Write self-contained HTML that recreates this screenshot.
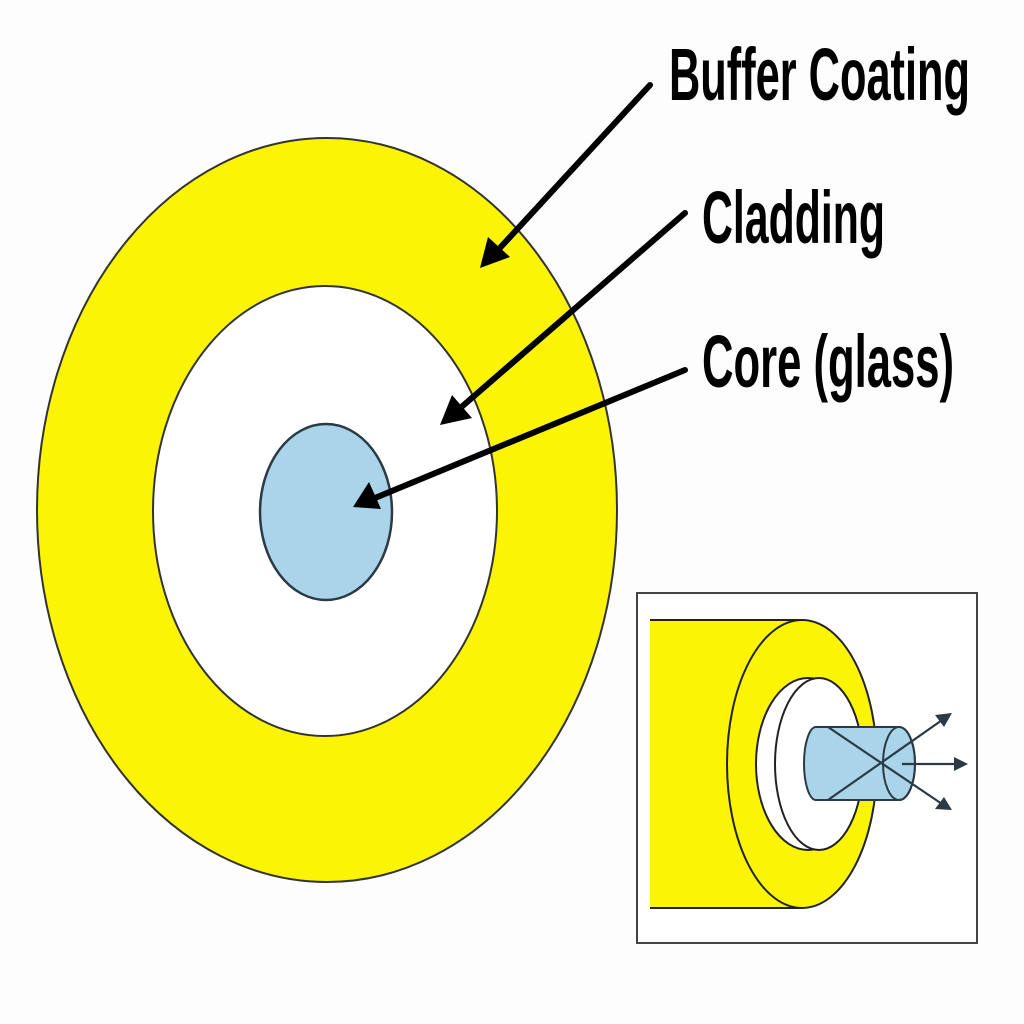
<!DOCTYPE html>
<html><head><meta charset="utf-8"><style>html,body{margin:0;padding:0;background:#fff}svg{display:block}</style></head>
<body>
<svg width="1024" height="1024" viewBox="0 0 1024 1024" xmlns="http://www.w3.org/2000/svg">
<defs>
<marker id="ah" markerWidth="10" markerHeight="10" refX="8" refY="5" orient="auto" markerUnits="userSpaceOnUse" viewBox="0 0 10 10">
</marker>
</defs>
<rect width="1024" height="1024" fill="#fdfdfd"/>
<!-- main rings -->
<ellipse cx="327" cy="510" rx="290" ry="372" fill="#fbf505" stroke="#333" stroke-width="2"/>
<ellipse cx="325" cy="511" rx="172" ry="225" fill="#fff" stroke="#333" stroke-width="2"/>
<ellipse cx="326" cy="512" rx="66" ry="88" fill="#a9d4ea" stroke="#2b3a44" stroke-width="2.5"/>
<!-- arrows -->
<g stroke="#000" stroke-width="6" stroke-linecap="round">
<line x1="650" y1="85" x2="498" y2="250"/>
<line x1="685" y1="213" x2="458" y2="410"/>
<line x1="685" y1="370" x2="375" y2="498"/>
</g>
<g fill="#000">
<polygon points="480,268 488,237 510,257"/>
<polygon points="440,425 452,395 472,418"/>
<polygon points="353,507 369,482 381,509"/>
</g>
<!-- labels -->
<g font-family="Liberation Sans, Arial, sans-serif" font-weight="bold" font-size="74" fill="#000">
<text x="669" y="100" textLength="301" lengthAdjust="spacingAndGlyphs">Buffer Coating</text>
<text x="702" y="243" textLength="183" lengthAdjust="spacingAndGlyphs">Cladding</text>
<text x="702" y="387" textLength="252" lengthAdjust="spacingAndGlyphs">Core (glass)</text>
</g>
<!-- inset -->
<rect x="637" y="593" width="340" height="350" fill="#fff" stroke="#444" stroke-width="2"/>
<path d="M650,620 L802,620 A75,144 0 0 1 802,908 L650,908 Z" fill="#fbf505"/>
<line x1="650" y1="620" x2="802" y2="620" stroke="#222" stroke-width="2"/>
<line x1="650" y1="908" x2="802" y2="908" stroke="#222" stroke-width="2"/>
<ellipse cx="802" cy="764" rx="75" ry="144" fill="#fbf505" stroke="#222" stroke-width="2"/>
<ellipse cx="808" cy="764" rx="52" ry="86" fill="#fff" stroke="#222" stroke-width="2"/>
<ellipse cx="819" cy="764" rx="44" ry="86" fill="#fff" stroke="#222" stroke-width="2"/>
<path d="M816,727 L899,727 A16,36.5 0 0 1 899,800 L816,800 A12,36.5 0 0 1 816,727 Z" fill="#a9d4ea" stroke="#2b3a44" stroke-width="2"/>
<ellipse cx="899" cy="763.5" rx="16" ry="36.5" fill="none" stroke="#2b3a44" stroke-width="2"/>
<g stroke="#2b3a44" stroke-width="2.2">
<line x1="828" y1="727" x2="945" y2="806"/>
<line x1="828" y1="800" x2="945" y2="718"/>
<line x1="902" y1="764" x2="960" y2="764"/>
</g>
<g fill="#2b3a44">
<polygon points="952,713 935,715 944,727"/>
<polygon points="952,810 944,797 935,809"/>
<polygon points="968,764 954,757 954,771"/>
</g>
</svg>
</body></html>
